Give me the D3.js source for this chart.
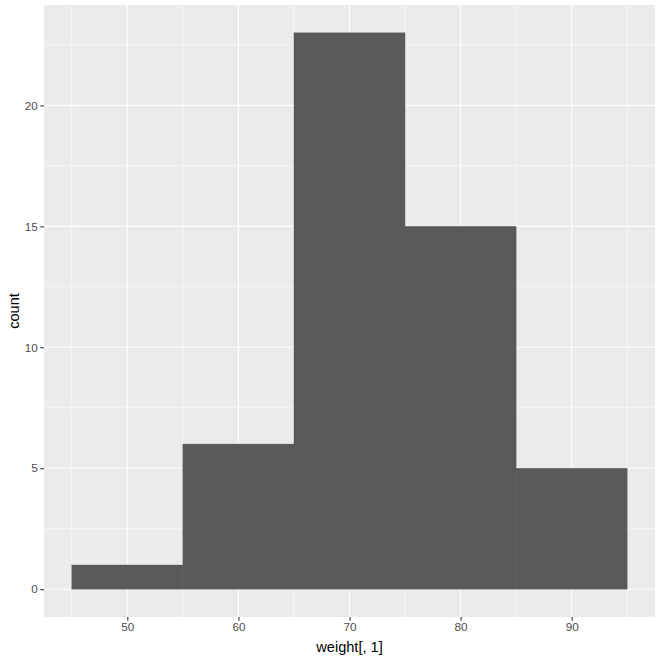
<!DOCTYPE html>
<html><head><meta charset="utf-8">
<script src="https://cdn.jsdelivr.net/npm/d3@7"></script>
<style>body{margin:0;background:#fff}svg{display:block}text{font-family:"Liberation Sans",Arial,sans-serif}</style>
</head><body><svg id="c" width="661" height="661"></svg>
<script>
const binStarts = [45, 55, 65, 75, 85];
const binWidth = 10;
const counts = [1, 6, 23, 15, 5];
const xTicks = [50, 60, 70, 80, 90];
const yTicks = [0, 5, 10, 15, 20];
const xMinor = [45, 55, 65, 75, 85, 95];
const yMinor = [2.5, 7.5, 12.5, 17.5, 22.5];

const svg = d3.select("#c");
const L = 44, R = 655, T = 5, B = 617;
const x = d3.scaleLinear().domain([42.5, 97.5]).range([L, R]);
const y = d3.scaleLinear().domain([-1.15, 24.15]).range([B, T]);

svg.append("rect").attr("x", L).attr("y", T).attr("width", R - L).attr("height", B - T).attr("fill", "#EBEBEB");
const g = svg.append("g");
g.selectAll(".xm").data(xMinor).join("line").attr("x1", d => x(d)).attr("x2", d => x(d)).attr("y1", T).attr("y2", B).attr("stroke", "#fff").attr("stroke-width", 0.55);
g.selectAll(".ym").data(yMinor).join("line").attr("y1", d => y(d)).attr("y2", d => y(d)).attr("x1", L).attr("x2", R).attr("stroke", "#fff").attr("stroke-width", 0.55);
g.selectAll(".xM").data(xTicks).join("line").attr("x1", d => x(d)).attr("x2", d => x(d)).attr("y1", T).attr("y2", B).attr("stroke", "#fff").attr("stroke-width", 1.1);
g.selectAll(".yM").data(yTicks).join("line").attr("y1", d => y(d)).attr("y2", d => y(d)).attr("x1", L).attr("x2", R).attr("stroke", "#fff").attr("stroke-width", 1.1);

svg.selectAll(".bar").data(binStarts).join("rect")
  .attr("x", d => x(d)).attr("width", d => x(d + binWidth) - x(d))
  .attr("y", (d, i) => y(counts[i])).attr("height", (d, i) => y(0) - y(counts[i]))
  .attr("fill", "#595959").attr("stroke", "#595959").attr("stroke-width", 0.3);

const xa = svg.append("g").attr("transform", `translate(0,${B})`)
  .call(d3.axisBottom(x).tickValues(xTicks).tickSize(3.65).tickPadding(2.5));
const ya = svg.append("g").attr("transform", `translate(${L},0)`)
  .call(d3.axisLeft(y).tickValues(yTicks).tickSize(3.65).tickPadding(2.5));
[xa, ya].forEach(a => {
  a.select(".domain").remove();
  a.selectAll(".tick line").attr("stroke", "#333333").attr("stroke-width", 1.1);
  a.selectAll(".tick text").attr("fill", "#4D4D4D").style("font-size", "11.7px").style("font-family", "'Liberation Sans',Arial,sans-serif");
});

svg.append("text").attr("x", (L + R) / 2).attr("y", 652).attr("text-anchor", "middle")
  .style("font-size", "14.6px").attr("fill", "#000").text("weight[, 1]");
svg.append("text").attr("transform", `translate(19,${(T + B) / 2}) rotate(-90)`).attr("text-anchor", "middle")
  .style("font-size", "14.6px").attr("fill", "#000").text("count");
</script></body></html>
